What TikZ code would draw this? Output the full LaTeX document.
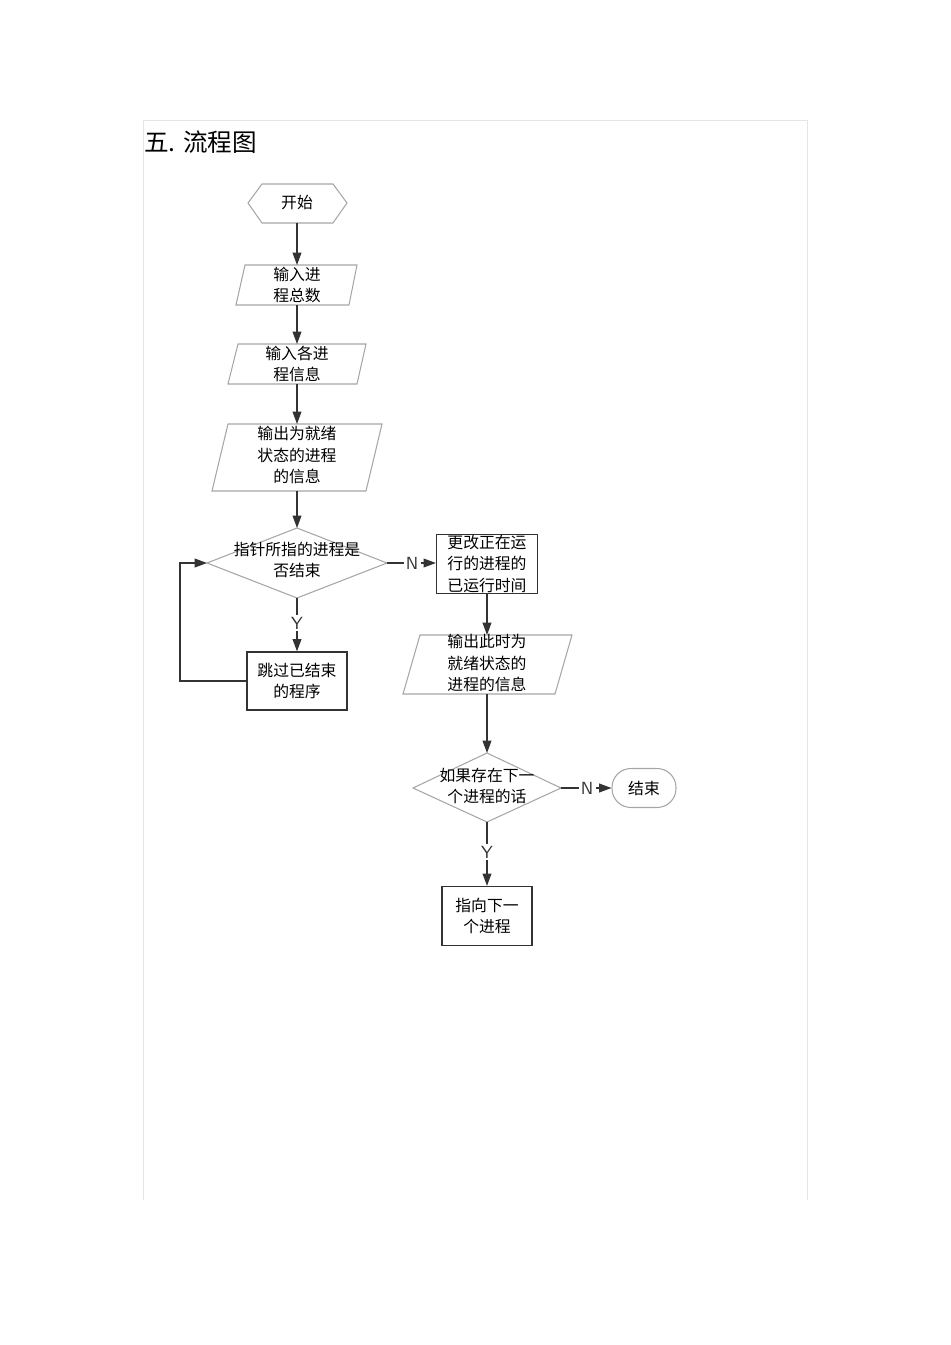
\documentclass[tikz,border=0pt]{standalone}
\usepackage{fontspec}
\setmainfont{Liberation Sans}
\newfontfamily\cjk{Noto Sans CJK SC}
\usetikzlibrary{arrows.meta}
\begin{document}
\begin{tikzpicture}[x=0.02cm,y=-0.02cm,
  every node/.style={font=\cjk\fontsize{9}{12}\selectfont,align=center,inner sep=0pt},
  sh/.style={draw=gray!70,line width=0.6pt},
  bx/.style={draw=black!80,line width=0.7pt},
  ar/.style={-{Triangle[length=7pt,width=5pt]},line width=0.7pt,black!80},
  ln/.style={line width=0.7pt,black!80},
  lab/.style={font=\sffamily\fontsize{10}{12}\selectfont,fill=white,inner sep=1pt}]
\useasboundingbox (0,0) rectangle (950,1345);
\draw[gray!20,line width=0.5pt] (143,1200) -- (143,120) -- (807,120) -- (807,1200);
\node[anchor=west,font=\cjk\fontsize{14}{16}\selectfont] (title) at (144,142) {五. 流程图};
% shapes
\draw[sh] (248,203)--(262,184)--(333,184)--(347,203)--(333,223)--(262,223)--cycle;
\node (s) at (297,203) {开始};
\draw[sh] (245,265)--(357,265)--(349,305)--(236,305)--cycle;
\node (p1) at (297,285) {输入进\\程总数};
\draw[sh] (238,344)--(366,344)--(357,384)--(228,384)--cycle;
\node (p2) at (297,364) {输入各进\\程信息};
\draw[sh] (228,424)--(382,424)--(366,491)--(212,491)--cycle;
\node (p3) at (297,455) {输出为就绪\\状态的进程\\的信息};
\draw[sh] (297,528)--(387,563)--(297,598)--(207,563)--cycle;
\node (d1) at (297,560) {指针所指的进程是\\否结束};
\node[bx,minimum width=101*0.02cm,minimum height=59*0.02cm] (b1) at (487,564) {更改正在运\\行的进程的\\已运行时间};
\draw[sh] (420,635)--(572,635)--(555,694)--(403,694)--cycle;
\node (p4) at (487,663) {输出此时为\\就绪状态的\\进程的信息};
\draw[sh] (487,753)--(561,788)--(487,822)--(413,788)--cycle;
\node (d2) at (487,786) {如果存在下一\\个进程的话};
\node[draw=gray!70,line width=0.6pt,rounded corners=0.38cm,minimum width=64*0.02cm,minimum height=39*0.02cm] (e) at (644,788) {结束};
\node[bx,minimum width=90*0.02cm,minimum height=59*0.02cm] (b3) at (487,916) {指向下一\\个进程};
\node[bx,minimum width=100*0.02cm,minimum height=58*0.02cm] (b2) at (297,681) {跳过已结束\\的程序};
% connectors
\coordinate (sB) at (297,223); \coordinate (p1T) at (297,265);
\coordinate (p1B) at (297,305); \coordinate (p2T) at (297,344);
\coordinate (p2B) at (297,384); \coordinate (p3T) at (297,424);
\coordinate (p3B) at (297,491); \coordinate (d1T) at (297,528);
\coordinate (d1R) at (387,563); \coordinate (d1B) at (297,598);
\coordinate (d1L) at (207,563);
\coordinate (p4T) at (487,635); \coordinate (p4B) at (487,694);
\coordinate (d2T) at (487,753); \coordinate (d2R) at (561,788); \coordinate (d2B) at (487,822);
\draw[ar] (sB) -- (p1T);
\draw[ar] (p1B) -- (p2T);
\draw[ar] (p2B) -- (p3T);
\draw[ar] (p3B) -- (d1T);
\draw[ln] (d1R) -- (412,563) node[lab] (n1) {N};
\draw[ar] (n1) -- (b1.west |- n1);
\draw[ln] (d1B) -- (297,623) node[lab] (y1) {Y};
\draw[ar] (y1) -- (b2);
\draw[ar] (b2.west) -- (180,681) -- (180,563) -- (d1L);
\draw[ar] (b1) -- (p4T);
\draw[ar] (p4B) -- (d2T);
\draw[ln] (d2R) -- (587,788) node[lab] (n2) {N};
\draw[ar] (n2) -- (e);
\draw[ln] (d2B) -- (487,852) node[lab] (y2) {Y};
\draw[ar] (y2) -- (b3);
\end{tikzpicture}
\end{document}
